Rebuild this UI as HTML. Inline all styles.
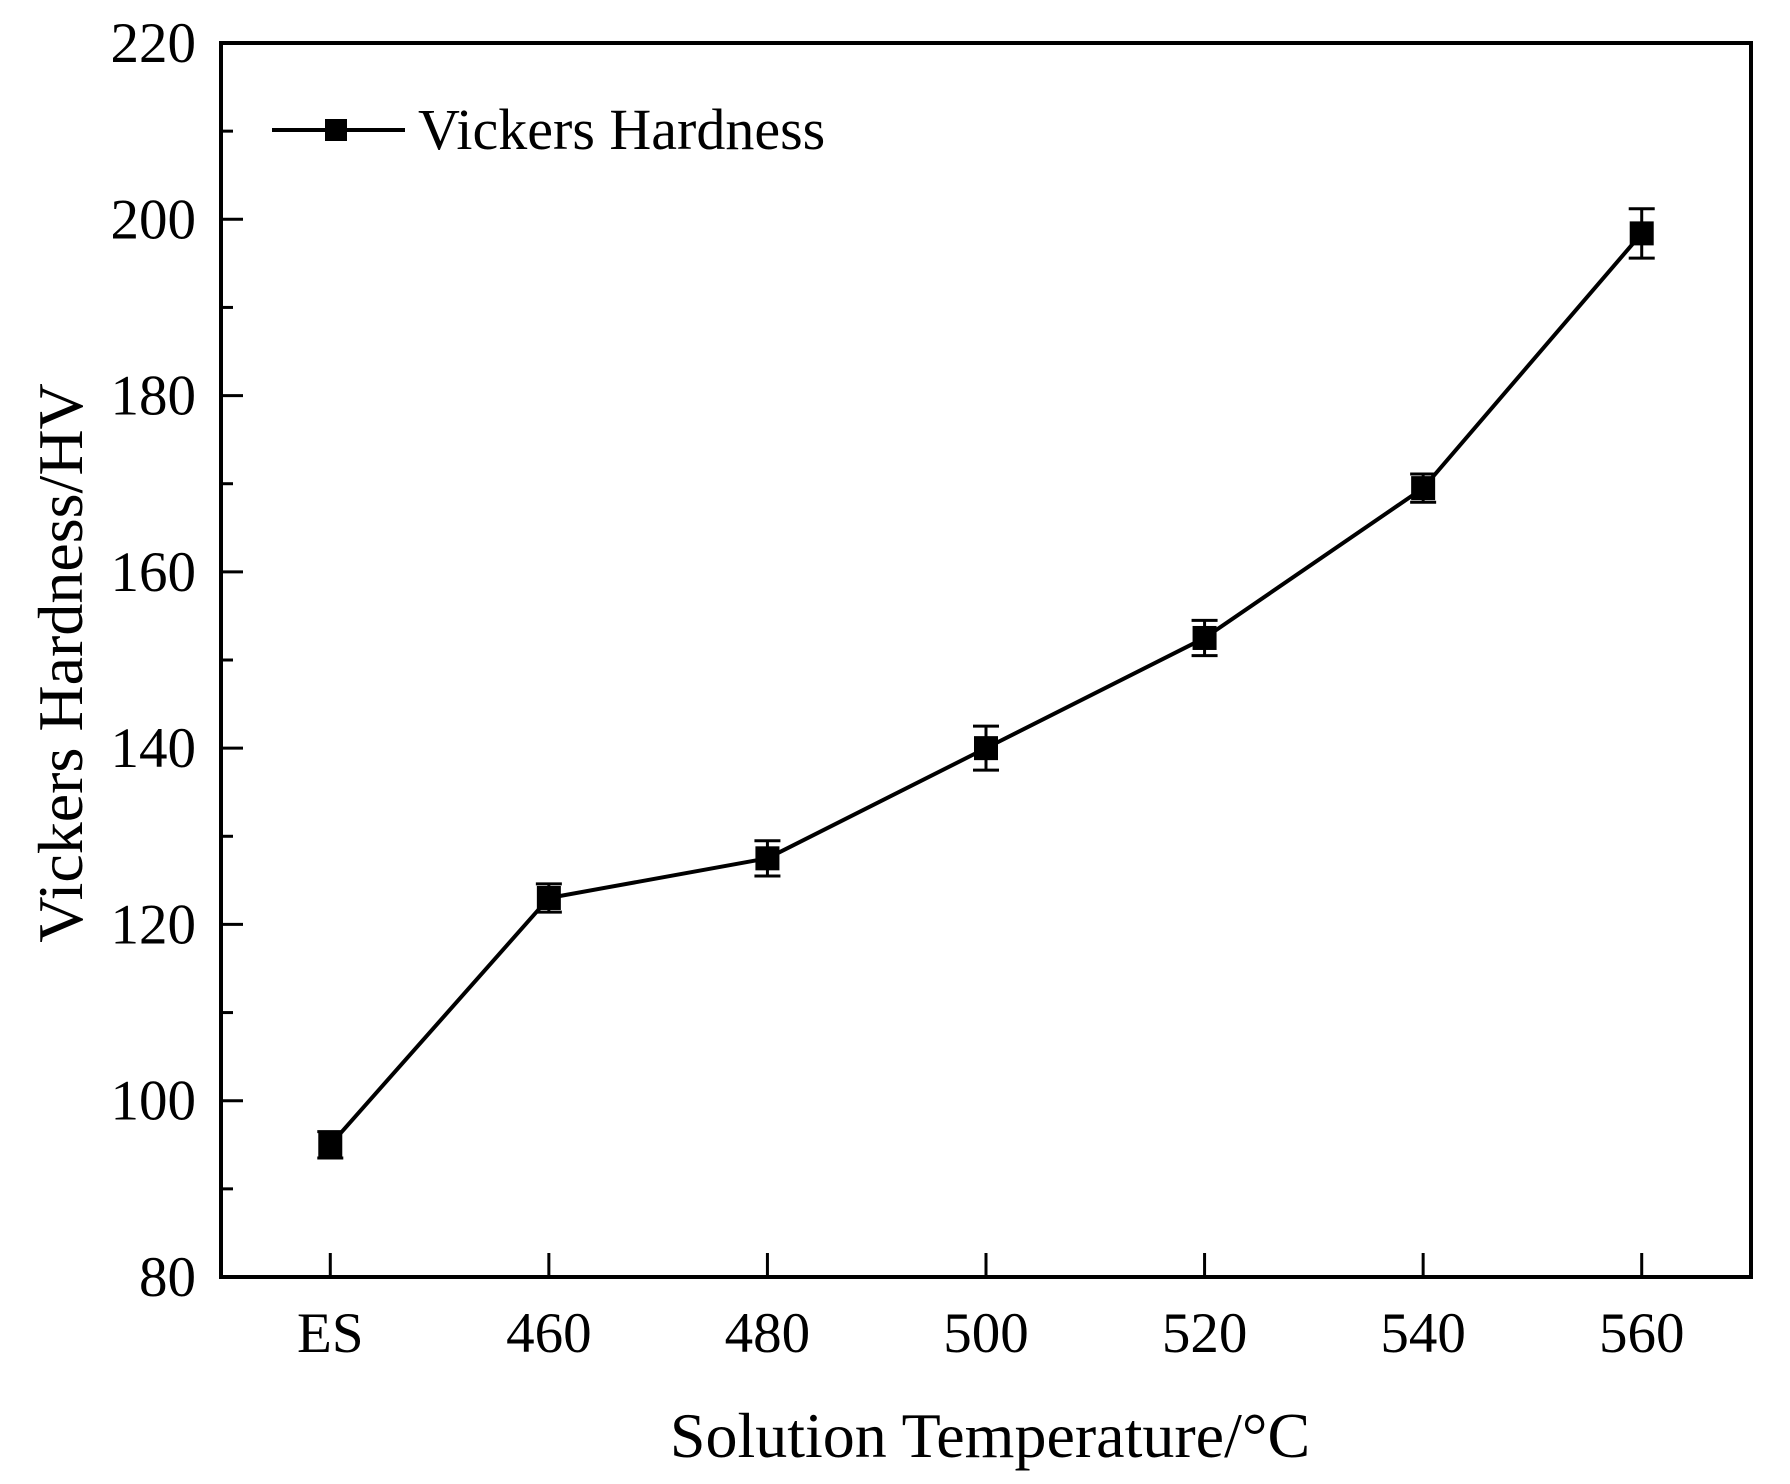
<!DOCTYPE html>
<html><head><meta charset="utf-8"><style>
html,body{margin:0;padding:0;background:#fff;}
svg{display:block;font-family:"Liberation Serif",serif;}
</style></head><body>
<svg id="chart" width="1790" height="1484" viewBox="0 0 1790 1484" xmlns="http://www.w3.org/2000/svg"></svg>
<script>
const categories = ["ES","460","480","500","520","540","560"];
const hardness = [95, 123, 127.5, 140, 152.5, 169.5, 198.4];
const errors = [1.5, 1.6, 2.0, 2.5, 2.0, 1.6, 2.8];
const yTicks = [80,100,120,140,160,180,200,220];
const yMinor = [90,110,130,150,170,190,210];

const L=221,R=1751,T=43,B=1277;
const NS="http://www.w3.org/2000/svg";
const svg=document.getElementById('chart');
const xs=i=>L+(i+0.5)*(R-L)/categories.length;
const ys=v=>B-(v-80)*(B-T)/140;
function mk(tag,attrs,parent){const e=document.createElementNS(NS,tag);for(const k in attrs)e.setAttribute(k,attrs[k]);(parent||svg).appendChild(e);return e;}

const frame=mk('rect',{x:L,y:T,width:R-L,height:B-T,fill:'none',stroke:'#000','stroke-width':4});



yTicks.forEach(v=>{
  const t=mk('line',{x1:L,x2:L+22,y1:ys(v),y2:ys(v),stroke:'#000','stroke-width':3});
  
  
  const tx=mk('text',{x:196,y:ys(v)+19,'text-anchor':'end','font-size':57});
  tx.textContent=v;
  
  
});
yMinor.forEach(v=>{
  const t=mk('line',{x1:L,x2:L+12,y1:ys(v),y2:ys(v),stroke:'#000','stroke-width':3});
  
  
});
categories.forEach((c,i)=>{
  const t=mk('line',{x1:xs(i),x2:xs(i),y1:B,y2:B-24,stroke:'#000','stroke-width':3});
  
  
  const tx=mk('text',{x:xs(i),y:1352,'text-anchor':'middle','font-size':57});
  tx.textContent=c;
  
  
});

const pts=hardness.map((v,i)=>xs(i)+','+ys(v)).join(' ');
const line=mk('polyline',{points:pts,fill:'none',stroke:'#000','stroke-width':4});



hardness.forEach((v,i)=>{
  const x=xs(i),y1=ys(v+errors[i]),y2=ys(v-errors[i]);
  const g=mk('g',{});
  
  
  mk('line',{x1:x,x2:x,y1:y1,y2:y2,stroke:'#000','stroke-width':3},g);
  mk('line',{x1:x-13,x2:x+13,y1:y1,y2:y1,stroke:'#000','stroke-width':3},g);
  mk('line',{x1:x-13,x2:x+13,y1:y2,y2:y2,stroke:'#000','stroke-width':3},g);
  const m=mk('rect',{x:x-12,y:ys(v)-12,width:24,height:24,fill:'#000'});
  
  
});

const lg=mk('g',{});


mk('line',{x1:272,x2:405,y1:130,y2:130,stroke:'#000','stroke-width':4},lg);
mk('rect',{x:325,y:119,width:22,height:22,fill:'#000'},lg);
const lt=mk('text',{x:418,y:149,'font-size':58},lg);
lt.textContent='Vickers Hardness';

const xt=mk('text',{x:990,y:1457,'text-anchor':'middle','font-size':64});
xt.textContent='Solution Temperature/°C';


const yt=mk('text',{x:0,y:0,'text-anchor':'middle','font-size':64,transform:'translate(82,663) rotate(-90)'});
yt.textContent='Vickers Hardness/HV';


</script>
</body></html>
